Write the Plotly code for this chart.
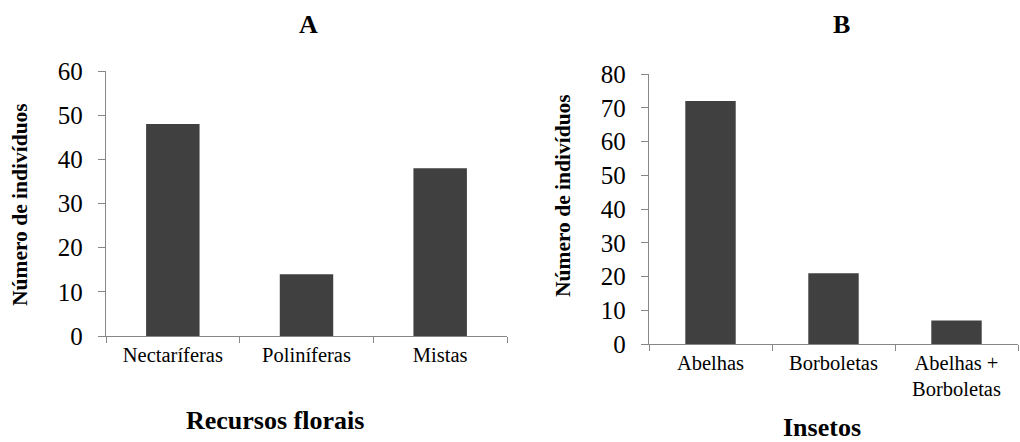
import plotly.graph_objects as go

# Data
cats_a = ["Nectaríferas", "Poliníferas", "Mistas"]
vals_a = [48, 14, 38]
cats_b = ["Abelhas", "Borboletas", "Abelhas +<br>Borboletas"]
vals_b = [72, 21, 7]
yticks_a = [0, 10, 20, 30, 40, 50, 60]
yticks_b = [0, 10, 20, 30, 40, 50, 60, 70, 80]

W, H = 1020, 442
BAR = "#404040"
AX = "#878787"
FONT = "Liberation Serif, Times New Roman, DejaVu Serif, serif"

fig = go.Figure()
fig.add_trace(go.Bar(x=cats_a, y=vals_a, width=0.4, marker=dict(color=BAR, line=dict(width=0)),
                     xaxis="x", yaxis="y", showlegend=False))
fig.add_trace(go.Bar(x=cats_b, y=vals_b, width=0.41, marker=dict(color=BAR, line=dict(width=0)),
                     xaxis="x2", yaxis="y2", showlegend=False))

def px(x):
    return x / W

def py(y):
    return 1 - y / H

xcommon = dict(type="category", showline=True, linecolor=AX, linewidth=1.3,
               ticks="outside", tickson="boundaries", ticklen=6, tickcolor=AX, tickwidth=1.3,
               showgrid=False, zeroline=False, automargin=False,
               tickfont=dict(family=FONT, size=20.5, color="#000"), fixedrange=True)
ycommon = dict(showline=True, linecolor=AX, linewidth=1.3, ticks="outside", ticklen=7,
               tickcolor=AX, tickwidth=1.3, showgrid=False, zeroline=False, automargin=False,
               tickfont=dict(family=FONT, size=25, color="#000"), ticklabelstandoff=10,
               fixedrange=True)

fig.update_layout(
    width=W, height=H,
    margin=dict(l=0, r=0, t=0, b=0, autoexpand=False),
    font=dict(family=FONT),
    paper_bgcolor="white", plot_bgcolor="white",
    xaxis=dict(domain=[px(106), px(507)], anchor="y", **xcommon),
    yaxis=dict(domain=[py(336), py(71)], anchor="x", range=[0, 60], tickvals=yticks_a, **ycommon),
    xaxis2=dict(domain=[px(649), px(1018)], anchor="y2", **xcommon),
    yaxis2=dict(domain=[py(344), py(74)], anchor="x2", range=[0, 80], tickvals=yticks_b, **ycommon),
)

def ann(text, x, y, size, angle=0):
    fig.add_annotation(text=text, x=px(x), y=py(y), xref="paper", yref="paper",
                       showarrow=False, textangle=angle, xanchor="center", yanchor="middle",
                       font=dict(family=FONT, size=size, color="#000"))

ann("<b>A</b>", 308, 24, 26)
ann("<b>B</b>", 841, 24, 26)
ann("<b>Recursos florais</b>", 275, 420, 26)
ann("<b>Insetos</b>", 822, 427, 26)
ann("<b>Número de indivíduos</b>", 20, 205, 21.5, -90)
ann("<b>Número de indivíduos</b>", 563, 196, 21.5, -90)

fig.write_html("out.html", config={"displayModeBar": False},
               post_script="document.body.style.margin='0';document.body.style.overflow='hidden';")
